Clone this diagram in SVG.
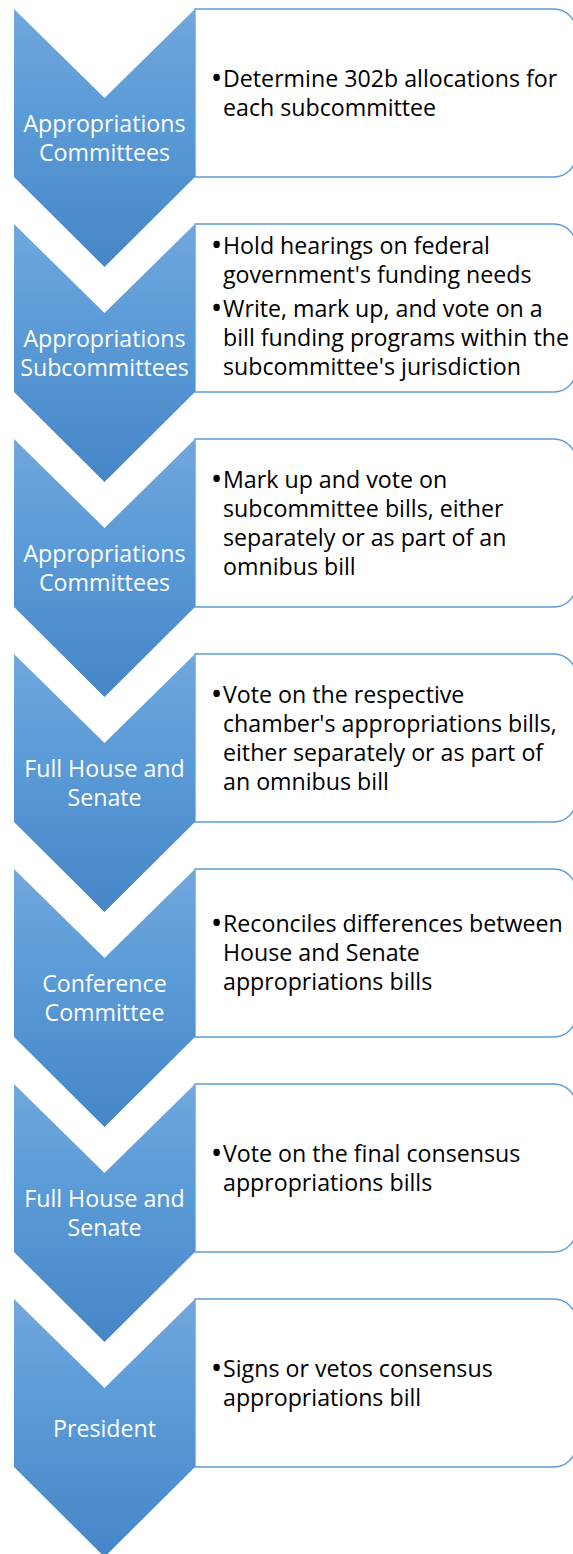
<svg xmlns="http://www.w3.org/2000/svg" width="573" height="1554" viewBox="0 0 573 1554">
  <style>
    .box { fill: #ffffff; stroke: #5b9bd5; stroke-width: 1.3; }
    .chev { fill: url(#chevFill); }
    .lbl { font-family: "Open Sans", "Noto Sans", "Liberation Sans", sans-serif; font-size: 23.2px; fill: #ffffff; text-anchor: middle; }
    .txt { font-family: "Open Sans", "Noto Sans", "Liberation Sans", sans-serif; font-size: 23.2px; fill: #000000; }
    .bul { font-family: "Open Sans", "Noto Sans", "Liberation Sans", sans-serif; font-size: 31px; fill: #000000; text-anchor: middle; }
  </style>
  <defs>
    <linearGradient id="chevFill" x1="0" y1="0" x2="0" y2="1">
      <stop offset="0" stop-color="#71a7dd"/>
      <stop offset="0.4" stop-color="#5b9bd7"/>
      <stop offset="1" stop-color="#4686c7"/>
    </linearGradient>
    <!-- chevron: 181 wide, 258 tall, notch depth 89 -->
    <path id="chevShape" d="M14,0 L104.5,89 L195,0 L195,168 L104.5,258 L14,168 Z"/>
    <!-- text panel: square left side, rounded right corners -->
    <path id="panelShape" d="M195,0 H554 A22,22 0 0 1 576,22 V146 A22,22 0 0 1 554,168 H195 Z"/>
  </defs>

  <g id="connectors"></g>

  <g id="step1" transform="translate(0,9)">
    <use href="#panelShape" class="box"/>
    <use href="#chevShape" class="chev"/>
    <text class="lbl" x="104.5" y="122.5">Appropriations</text>
    <text class="lbl" x="104.5" y="151.5">Committees</text>
    <text class="bul" x="216.5" y="80">•</text>
    <text class="txt" x="223" y="78">Determine 302b allocations for</text>
    <text class="txt" x="223" y="106.5">each subcommittee</text>
  </g>

  <g id="step2" transform="translate(0,224)">
    <use href="#panelShape" class="box"/>
    <use href="#chevShape" class="chev"/>
    <text class="lbl" x="104.5" y="122.5">Appropriations</text>
    <text class="lbl" x="104.5" y="151.5">Subcommittees</text>
    <text class="bul" x="216.5" y="32">•</text>
    <text class="txt" x="223" y="30">Hold hearings on federal</text>
    <text class="txt" x="223" y="59">government's funding needs</text>
    <text class="bul" x="216.5" y="95">•</text>
    <text class="txt" x="223" y="93">Write, mark up, and vote on a</text>
    <text class="txt" x="223" y="122">bill funding programs within the</text>
    <text class="txt" x="223" y="151">subcommittee's jurisdiction</text>
  </g>

  <g id="step3" transform="translate(0,439)">
    <use href="#panelShape" class="box"/>
    <use href="#chevShape" class="chev"/>
    <text class="lbl" x="104.5" y="122.5">Appropriations</text>
    <text class="lbl" x="104.5" y="151.5">Committees</text>
    <text class="bul" x="216.5" y="50.5">•</text>
    <text class="txt" x="223" y="48.5">Mark up and vote on</text>
    <text class="txt" x="223" y="77.5">subcommittee bills, either</text>
    <text class="txt" x="223" y="106.5">separately or as part of an</text>
    <text class="txt" x="223" y="135.5">omnibus bill</text>
  </g>

  <g id="step4" transform="translate(0,654)">
    <use href="#panelShape" class="box"/>
    <use href="#chevShape" class="chev"/>
    <text class="lbl" x="104.5" y="122.5">Full House and</text>
    <text class="lbl" x="104.5" y="151.5">Senate</text>
    <text class="bul" x="216.5" y="50.5">•</text>
    <text class="txt" x="223" y="48.5">Vote on the respective</text>
    <text class="txt" x="223" y="77.5">chamber's appropriations bills,</text>
    <text class="txt" x="223" y="106.5">either separately or as part of</text>
    <text class="txt" x="223" y="135.5">an omnibus bill</text>
  </g>

  <g id="step5" transform="translate(0,869)">
    <use href="#panelShape" class="box"/>
    <use href="#chevShape" class="chev"/>
    <text class="lbl" x="104.5" y="122.5">Conference</text>
    <text class="lbl" x="104.5" y="151.5">Committee</text>
    <text class="bul" x="216.5" y="65">•</text>
    <text class="txt" x="223" y="63">Reconciles differences between</text>
    <text class="txt" x="223" y="92">House and Senate</text>
    <text class="txt" x="223" y="120.5">appropriations bills</text>
  </g>

  <g id="step6" transform="translate(0,1084)">
    <use href="#panelShape" class="box"/>
    <use href="#chevShape" class="chev"/>
    <text class="lbl" x="104.5" y="122.5">Full House and</text>
    <text class="lbl" x="104.5" y="151.5">Senate</text>
    <text class="bul" x="216.5" y="80">•</text>
    <text class="txt" x="223" y="78">Vote on the final consensus</text>
    <text class="txt" x="223" y="107">appropriations bills</text>
  </g>

  <g id="step7" transform="translate(0,1299)">
    <use href="#panelShape" class="box"/>
    <use href="#chevShape" class="chev"/>
    <text class="lbl" x="104.5" y="137.5">President</text>
    <text class="bul" x="216.5" y="80">•</text>
    <text class="txt" x="223" y="78">Signs or vetos consensus</text>
    <text class="txt" x="223" y="107">appropriations bill</text>
  </g>
</svg>
